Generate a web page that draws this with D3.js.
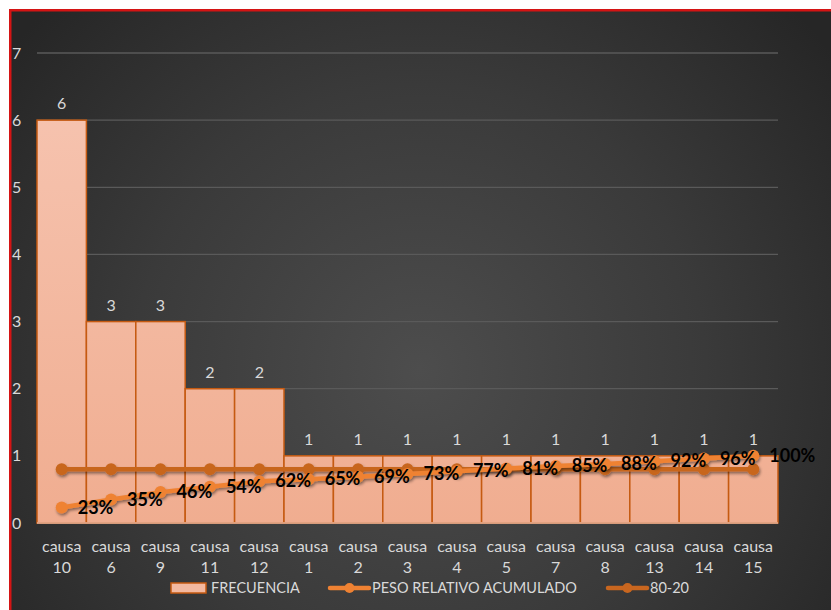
<!DOCTYPE html>
<html>
<head>
<meta charset="utf-8">
<script src="https://cdn.jsdelivr.net/npm/d3@7/dist/d3.min.js"></script>
<style>
  html, body { margin: 0; padding: 0; background: #ffffff; }
  svg { display: block; }
</style>
</head>
<body>
<div id="chart"></div>
<script>
// Pareto data
const categories = ["causa 10", "causa 6", "causa 9", "causa 11", "causa 12", "causa 1", "causa 2",
  "causa 3", "causa 4", "causa 5", "causa 7", "causa 8", "causa 13", "causa 14", "causa 15"];
const frecuencia = [6, 3, 3, 2, 2, 1, 1, 1, 1, 1, 1, 1, 1, 1, 1];
const pesoAcumulado = [0.23, 0.35, 0.46, 0.54, 0.62, 0.65, 0.69, 0.73, 0.77, 0.81, 0.85, 0.88, 0.92, 0.96, 1.00];
const pesoLabels = ["23%", "35%", "46%", "54%", "62%", "65%", "69%", "73%", "77%", "81%", "85%", "88%", "92%", "96%", "100%"];
const linea8020 = [0.8, 0.8, 0.8, 0.8, 0.8, 0.8, 0.8, 0.8, 0.8, 0.8, 0.8, 0.8, 0.8, 0.8, 0.8];
const yTicks = [0, 1, 2, 3, 4, 5, 6, 7];
const legendItems = ["FRECUENCIA", "PESO RELATIVO ACUMULADO", "80-20"];

const W = 831, H = 610;
const margin = { left: 37, right: 53, top: 53, bottom: 87 };
const font = "Lato, 'Open Sans', sans-serif";

const svg = d3.select("#chart").append("svg").attr("width", W).attr("height", H);
const defs = svg.append("defs");

const bg = defs.append("radialGradient").attr("id", "bg")
  .attr("gradientUnits", "userSpaceOnUse")
  .attr("cx", 420).attr("cy", 370).attr("r", 520);
bg.append("stop").attr("offset", "0%").attr("stop-color", "#4d4d4d");
bg.append("stop").attr("offset", "55%").attr("stop-color", "#3a3a3a");
bg.append("stop").attr("offset", "100%").attr("stop-color", "#262626");

const barGrad = defs.append("linearGradient").attr("id", "barGrad")
  .attr("gradientUnits", "userSpaceOnUse")
  .attr("x1", 0).attr("y1", margin.top).attr("x2", 0).attr("y2", H - margin.bottom);
barGrad.append("stop").attr("offset", "0%").attr("stop-color", "#f7c6b3");
barGrad.append("stop").attr("offset", "100%").attr("stop-color", "#f0ad90");

const shadow = defs.append("filter").attr("id", "shadow")
  .attr("x", "-10%").attr("y", "-50%").attr("width", "120%").attr("height", "200%");
shadow.append("feDropShadow").attr("dx", 1).attr("dy", 2).attr("stdDeviation", 1.6)
  .attr("flood-color", "#000").attr("flood-opacity", 0.45);

// frame: white strip at top, red border, dark background
svg.append("rect").attr("x", 0).attr("y", 0).attr("width", W).attr("height", H).attr("fill", "#ffffff");
svg.append("rect").attr("x", 9).attr("y", 9).attr("width", W - 9).attr("height", H - 9).attr("fill", "url(#bg)");
svg.append("rect").attr("x", 9).attr("y", 9).attr("width", W - 9).attr("height", 2.5).attr("fill", "#d41414");
svg.append("rect").attr("x", 9).attr("y", 9).attr("width", 2.5).attr("height", H - 9).attr("fill", "#d41414");

const x = d3.scaleBand().domain(categories).range([margin.left, W - margin.right]).padding(0);
const y = d3.scaleLinear().domain([0, 7]).range([H - margin.bottom, margin.top]);

// gridlines
svg.append("g").selectAll("line").data(yTicks.filter(d => d > 0)).join("line")
  .attr("x1", margin.left).attr("x2", W - margin.right)
  .attr("y1", d => y(d)).attr("y2", d => y(d))
  .attr("stroke", "#5a5a5a").attr("stroke-width", 1.3);

// y axis labels
const yAxis = d3.axisLeft(y).tickValues(yTicks).tickFormat(d3.format("d")).tickSize(0).tickPadding(0);
const gy = svg.append("g").attr("transform", "translate(12,0)").call(yAxis);
gy.select(".domain").remove();
gy.selectAll("text").attr("text-anchor", "start").attr("x", 0)
  .attr("fill", "#d9d9d9").style("font-family", font).style("font-size", "16px");

// bars
svg.append("g").selectAll("rect").data(frecuencia).join("rect")
  .attr("x", (d, i) => x(categories[i]))
  .attr("y", d => y(d))
  .attr("width", x.bandwidth())
  .attr("height", d => y(0) - y(d))
  .attr("fill", "url(#barGrad)")
  .attr("stroke", "#c55a11").attr("stroke-width", 1.5);

// axis baseline
svg.append("line").attr("x1", margin.left).attr("x2", W - margin.right)
  .attr("y1", y(0)).attr("y2", y(0)).attr("stroke", "#e8b59c").attr("stroke-width", 1.5);

// bar value labels
svg.append("g").selectAll("text").data(frecuencia).join("text")
  .attr("x", (d, i) => x(categories[i]) + x.bandwidth() / 2)
  .attr("y", d => y(d) - 11)
  .attr("text-anchor", "middle")
  .attr("fill", "#d9d9d9").style("font-family", font).style("font-size", "16px")
  .text(d => d);

// x axis category labels (two lines)
const xAxis = d3.axisBottom(x).tickSize(0).tickPadding(0);
const gx = svg.append("g").attr("transform", `translate(0,${y(0)})`).call(xAxis);
gx.select(".domain").remove();
gx.selectAll("text").each(function(d) {
  const t = d3.select(this).text("");
  const parts = d.split(" ");
  t.attr("y", 0).attr("dy", null).attr("fill", "#d9d9d9")
    .style("font-family", font).style("font-size", "16px");
  t.append("tspan").attr("x", 0).attr("y", 29).text(parts[0]);
  t.append("tspan").attr("x", 0).attr("y", 50).text(parts[1]);
});

const cx = (d, i) => x(categories[i]) + x.bandwidth() / 2;
const line = d3.line().x((d, i) => cx(d, i)).y(d => y(d));

function drawSeries(values, color) {
  const g = svg.append("g").attr("filter", "url(#shadow)");
  g.append("path").datum(values).attr("d", line)
    .attr("fill", "none").attr("stroke", color).attr("stroke-width", 4.5)
    .attr("stroke-linejoin", "round").attr("stroke-linecap", "round");
  g.selectAll("circle").data(values).join("circle")
    .attr("cx", cx).attr("cy", d => y(d)).attr("r", 6).attr("fill", color);
}

drawSeries(linea8020, "#c8661f");
drawSeries(pesoAcumulado, "#ef8233");

// cumulative percentage labels
svg.append("g").selectAll("text").data(pesoAcumulado).join("text")
  .attr("x", (d, i) => cx(d, i) + 16)
  .attr("y", d => y(d) + 6)
  .attr("fill", "#000000").style("font-family", font)
  .style("font-size", "18px").style("font-weight", "bold")
  .text((d, i) => pesoLabels[i]);

// legend
const lg = svg.append("g").style("font-family", font).style("font-size", "14.5px");
const ly = 588;
lg.append("rect").attr("x", 171).attr("y", ly - 5).attr("width", 35).attr("height", 10)
  .attr("fill", "#f3b9a0").attr("stroke", "#c55a11").attr("stroke-width", 1.5);
lg.append("text").attr("x", 211).attr("y", ly + 5).attr("fill", "#d9d9d9").text(legendItems[0]);

lg.append("line").attr("x1", 330).attr("x2", 369).attr("y1", ly).attr("y2", ly)
  .attr("stroke", "#ef8233").attr("stroke-width", 4.5).attr("stroke-linecap", "round");
lg.append("circle").attr("cx", 349.5).attr("cy", ly).attr("r", 5).attr("fill", "#ef8233");
lg.append("text").attr("x", 372).attr("y", ly + 5).attr("fill", "#d9d9d9").text(legendItems[1]);

lg.append("line").attr("x1", 608).attr("x2", 647).attr("y1", ly).attr("y2", ly)
  .attr("stroke", "#c8661f").attr("stroke-width", 4.5).attr("stroke-linecap", "round");
lg.append("circle").attr("cx", 627.5).attr("cy", ly).attr("r", 5).attr("fill", "#c8661f");
lg.append("text").attr("x", 650).attr("y", ly + 5).attr("fill", "#d9d9d9").text(legendItems[2]);
</script>
</body>
</html>
